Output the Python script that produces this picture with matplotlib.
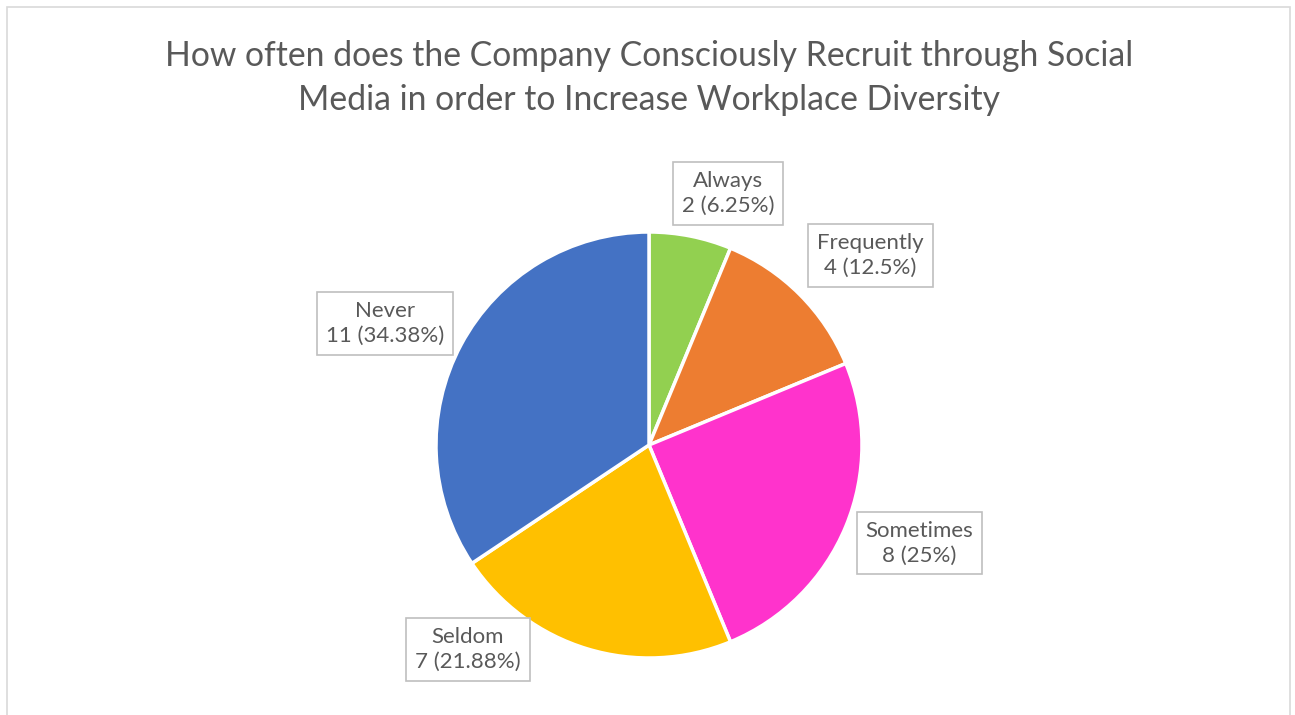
import matplotlib.pyplot as plt
from matplotlib.patches import Rectangle

plt.rcParams['font.family'] = ['Lato', 'DejaVu Sans']

title = "How often does the Company Consciously Recruit through Social\nMedia in order to Increase Workplace Diversity"
labels = ["Always", "Frequently", "Sometimes", "Seldom", "Never"]
counts = [2, 4, 8, 7, 11]
colors = ["#92D050", "#ED7D31", "#FF33CC", "#FFC000", "#4472C4"]

# label box centres, in units of pie radius
label_pos = [(0.37, 1.18), (1.04, 0.89), (1.27, -0.46), (-0.85, -0.96), (-1.24, 0.57)]

fig = plt.figure(figsize=(12.95, 7.15), dpi=100)
fig.patches.append(Rectangle((7 / 1295, -0.1), (1290 - 7) / 1295, 1.1 - 7 / 715,
                             transform=fig.transFigure, fill=False,
                             edgecolor="#D9D9D9", linewidth=1.2))

ax = fig.add_axes([0, 0, 1, 1])
R = 213.0
cx, cy = 649.0, 445.0
ax.axis("off")

total = sum(counts)
ax.pie(counts, colors=colors, startangle=90, counterclock=False, radius=1.0,
       wedgeprops=dict(edgecolor="white", linewidth=2.5))
ax.set_xlim(-cx / R, (1295 - cx) / R)
ax.set_ylim(-(715 - cy) / R, cy / R)
ax.set_aspect("auto")

for lab, n, (x, y) in zip(labels, counts, label_pos):
    pct = round(100 * n / total, 2)
    s = f"{lab}\n{n} ({pct:g}%)"
    ax.text(x, y, s, ha="center", va="center", fontsize=16, color="#595959",
            linespacing=1.3,
            bbox=dict(boxstyle="square,pad=0.4", facecolor="white", edgecolor="#BFBFBF", linewidth=1.2))

fig.text(649 / 1295, 1 - 78 / 715, title, ha="center", va="center", fontsize=24.3,
         color="#595959", linespacing=1.5)

fig.savefig("out.png", dpi=100)
